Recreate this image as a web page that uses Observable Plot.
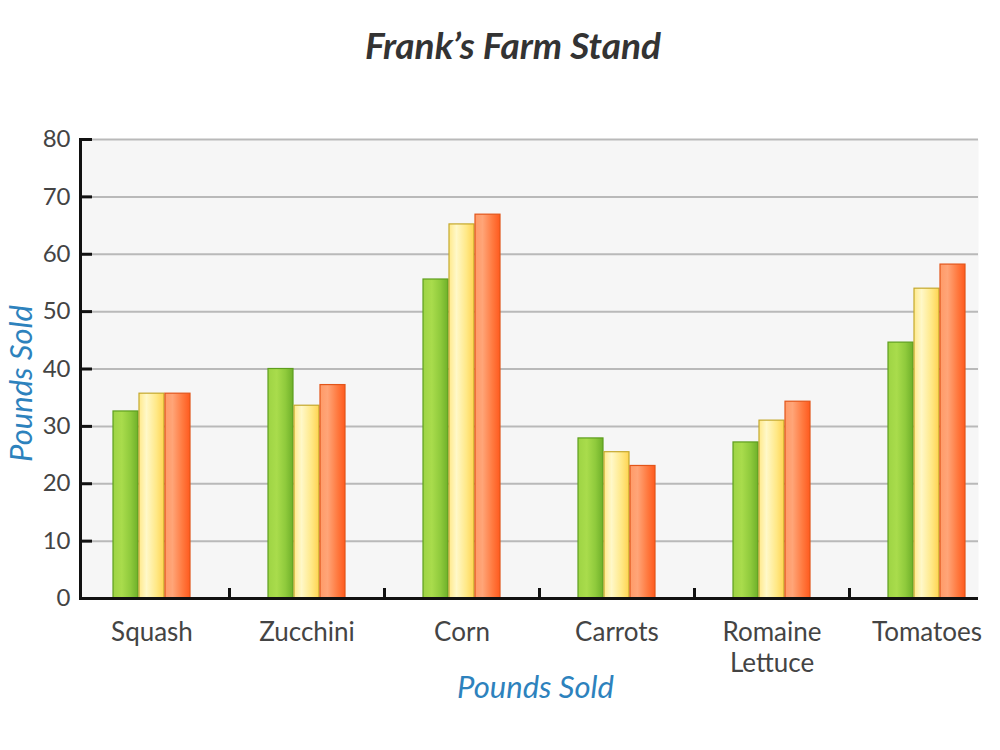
<!DOCTYPE html>
<html>
<head>
<meta charset="utf-8">
<script src="https://cdn.jsdelivr.net/npm/d3@7"></script>
<script src="https://cdn.jsdelivr.net/npm/@observablehq/plot@0.6"></script>
<style>
  html, body { margin: 0; padding: 0; background: #fff; }
  body { width: 1000px; height: 750px; overflow: hidden; font-family: Lato, sans-serif; }
  #title { height: 100px; box-sizing: border-box; padding-top: 25px; padding-left: 26px;
           text-align: center; font: italic bold 37px/40px Lato, sans-serif; color: #333; }
  #defs { position: absolute; width: 0; height: 0; }
</style>
</head>
<body>
<svg id="defs" aria-hidden="true">
  <defs>
    <linearGradient id="gGreen" x1="0" x2="1" y1="0" y2="0">
      <stop offset="0" stop-color="#9ed444"/>
      <stop offset="0.35" stop-color="#a9dc4c"/>
      <stop offset="0.7" stop-color="#8fca3c"/>
      <stop offset="1" stop-color="#6fb02a"/>
    </linearGradient>
    <linearGradient id="gYellow" x1="0" x2="1" y1="0" y2="0">
      <stop offset="0" stop-color="#ffe98a"/>
      <stop offset="0.3" stop-color="#fff8c8"/>
      <stop offset="0.7" stop-color="#ffe886"/>
      <stop offset="1" stop-color="#ffd452"/>
    </linearGradient>
    <linearGradient id="gOrange" x1="0" x2="1" y1="0" y2="0">
      <stop offset="0" stop-color="#ff9a68"/>
      <stop offset="0.3" stop-color="#ffa578"/>
      <stop offset="0.7" stop-color="#ff7a40"/>
      <stop offset="1" stop-color="#ff5a1e"/>
    </linearGradient>
  </defs>
</svg>
<div id="title">Frank’s Farm Stand</div>
<div id="chart"></div>
<script>
const categories = ["Squash", "Zucchini", "Corn", "Carrots", "Romaine Lettuce", "Tomatoes"];
const xLabels = ["Squash", "Zucchini", "Corn", "Carrots", "Romaine\nLettuce", "Tomatoes"];
const greenValues  = [32.6, 40.0, 55.6, 27.9, 27.2, 44.6];
const yellowValues = [35.7, 33.6, 65.2, 25.5, 31.0, 54.0];
const orangeValues = [35.7, 37.2, 66.9, 23.1, 34.3, 58.2];
const yTicks = [0, 10, 20, 30, 40, 50, 60, 70, 80];
const xTitle = "Pounds Sold";
const yTitle = "Pounds Sold";

const rows = vals => categories.map((c, i) => ({category: c, value: vals[i]}));
const greenRows = rows(greenValues);
const yellowRows = rows(yellowValues);
const orangeRows = rows(orangeValues);

const bandStep = (1004 - 74) / categories.length;
const barInset = (bandStep - 25) / 2;

const chart = Plot.plot({
  width: 1000,
  height: 650,
  marginTop: 39,
  marginBottom: 152,
  marginLeft: 80,
  marginRight: 22,
  style: {fontFamily: "Lato, sans-serif", color: "#444", background: "transparent", overflow: "visible"},
  x: {domain: categories, range: [74, 1004], padding: 0, label: null},
  y: {domain: [0, 80], label: null},
  marks: [
    Plot.frame({fill: "#f6f6f6", stroke: null}),
    Plot.ruleY(yTicks.slice(1), {stroke: "#b9b9b9", strokeWidth: 2}),
    Plot.barY(greenRows, {x: "category", y: "value", fill: "url(#gGreen)", stroke: "#5e9e1e", strokeWidth: 1.2,
      insetLeft: barInset, insetRight: barInset, dx: -26}),
    Plot.barY(yellowRows, {x: "category", y: "value", fill: "url(#gYellow)", stroke: "#c4a82c", strokeWidth: 1.2,
      insetLeft: barInset, insetRight: barInset, dx: 0}),
    Plot.barY(orangeRows, {x: "category", y: "value", fill: "url(#gOrange)", stroke: "#e2551a", strokeWidth: 1.2,
      insetLeft: barInset, insetRight: barInset, dx: 26}),
    Plot.ruleY([0], {stroke: "#111", strokeWidth: 3}),
    Plot.frame({anchor: "left", stroke: "#111", strokeWidth: 3}),
    Plot.ruleY(yTicks.slice(1), {stroke: "#111", strokeWidth: 3, insetRight: (1000 - 22 - 80) - 12}),
    Plot.ruleX(categories.slice(1), {stroke: "#111", strokeWidth: 3, dx: -bandStep / 2, insetTop: (650 - 39 - 152) - 10}),
    Plot.axisY({ticks: yTicks, tickSize: 0, tickPadding: 10, fontSize: 24, label: null}),
    Plot.axisX({tickSize: 0, tickPadding: 20, fontSize: 26, label: null, lineHeight: 1.2,
      tickFormat: d => xLabels[categories.indexOf(d)]}),
    Plot.text([xTitle], {text: d => d, frameAnchor: "bottom", dx: 6, dy: 99, lineAnchor: "bottom",
      fontSize: 31, fontStyle: "italic", fill: "#2d82bd"}),
    Plot.text([yTitle], {text: d => d, frameAnchor: "left", rotate: -90, dx: -49, dy: 14.5, lineAnchor: "bottom",
      textAnchor: "middle", fontSize: 31, fontStyle: "italic", fill: "#2d82bd"})
  ]
});
document.getElementById("chart").appendChild(chart);
</script>
</body>
</html>
